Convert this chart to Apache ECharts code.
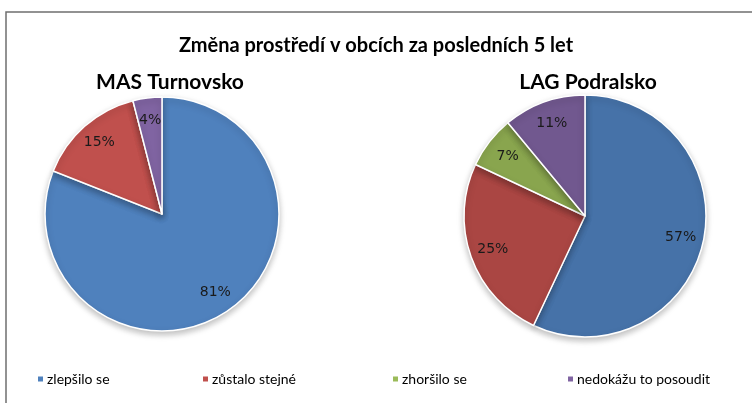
<!DOCTYPE html>
<html>
<head>
<meta charset="utf-8">
<script src="https://cdn.jsdelivr.net/npm/echarts@6/dist/echarts.min.js"></script>
<style>
html, body { margin: 0; padding: 0; background: #fff; }
#chart { width: 752px; height: 403px; }
</style>
</head>
<body>
<div id="chart"></div>
<script>
// kategorie
var categories = ['zlepšilo se', 'zůstalo stejné', 'zhoršilo se', 'nedokážu to posoudit']
// hodnoty v %
var turnovsko = [81, 15, 0, 4]
var podralsko = [57, 25, 7, 11]
var chartTitle = 'Změna prostředí v obcích za posledních 5 let'
var pieTitles = ['MAS Turnovsko', 'LAG Podralsko']

var colorsLeft = ['#4f81bd', '#c0504d', '#9bbb59', '#8064a2']
var colorsRight = ['#4672a8', '#aa4643', '#89a54e', '#71588f']

function pieData(values, colors) {
	return categories.map(function (name, i) {
		return { name: name, value: values[i], itemStyle: { color: colors[i] } }
	})
}

// pie s vyplni
function pieSeries(values, colors, center, r) {
	return {
		type: 'pie',
		center: center,
		radius: [0, r],
		startAngle: 90,
		clockwise: true,
		silent: true,
		label: { show: false },
		labelLine: { show: false },
		itemStyle: {
			borderColor: '#fff',
			borderWidth: 1.5,
			shadowBlur: 6,
			shadowOffsetY: 3,
			shadowColor: 'rgba(0,0,0,0.25)'
		},
		data: pieData(values, colors)
	}
}
// jen popisky (cca 0.8 polomeru)
function labelSeries(values, center, r) {
	return {
		type: 'pie',
		center: center,
		radius: [r * 0.57, r],
		startAngle: 90,
		silent: true,
		itemStyle: { color: 'rgba(0,0,0,0)', borderWidth: 0 },
		label: {
			show: true,
			position: 'inside',
			fontFamily: 'DejaVu Sans',
			fontSize: 14,
			color: '#1a1a1a',
			formatter: function (p) { return p.value ? p.value + '%' : '' }
		},
		labelLine: { show: false },
		data: categories.map(function (name, i) {
			return { name: name, value: values[i] }
		})
	}
}

var legendX = [36, 201, 391, 566]
var legends = categories.map(function (name, i) {
	return {
		data: [name],
		left: legendX[i],
		top: 372,
		icon: 'rect',
		itemWidth: 7,
		itemHeight: 7,
		itemGap: 0,
		padding: 0,
		selectedMode: false,
		textStyle: { fontFamily: 'Lato', fontSize: 14, color: '#000', padding: [0, 0, 0, -2] }
	}
})

var chart = echarts.init(document.getElementById('chart'))
chart.setOption({
	animation: false,
	graphic: [{
		type: 'rect',
		shape: { x: 6, y: 12, width: 760, height: 420 },
		style: { fill: 'none', stroke: '#6f6f6f', lineWidth: 1.5 }
	}],
	title: [
		{ text: chartTitle, left: 'center', top: 31, textStyle: { fontFamily: 'Lato', fontWeight: 'bold', fontSize: 20, color: '#000' } },
		{ text: pieTitles[0], left: 165, top: 67, textAlign: 'center', textStyle: { fontFamily: 'Lato', fontWeight: 'bold', fontSize: 21, color: '#000' } },
		{ text: pieTitles[1], left: 583, top: 67, textAlign: 'center', textStyle: { fontFamily: 'Lato', fontWeight: 'bold', fontSize: 21, color: '#000' } }
	],
	legend: legends,
	series: [
		pieSeries(turnovsko, colorsLeft, [162, 214], 117),
		pieSeries(podralsko, colorsRight, [585, 216], 121),
		labelSeries(turnovsko, [162, 214], 117),
		labelSeries(podralsko, [585, 216], 121)
	]
})
</script>
</body>
</html>
